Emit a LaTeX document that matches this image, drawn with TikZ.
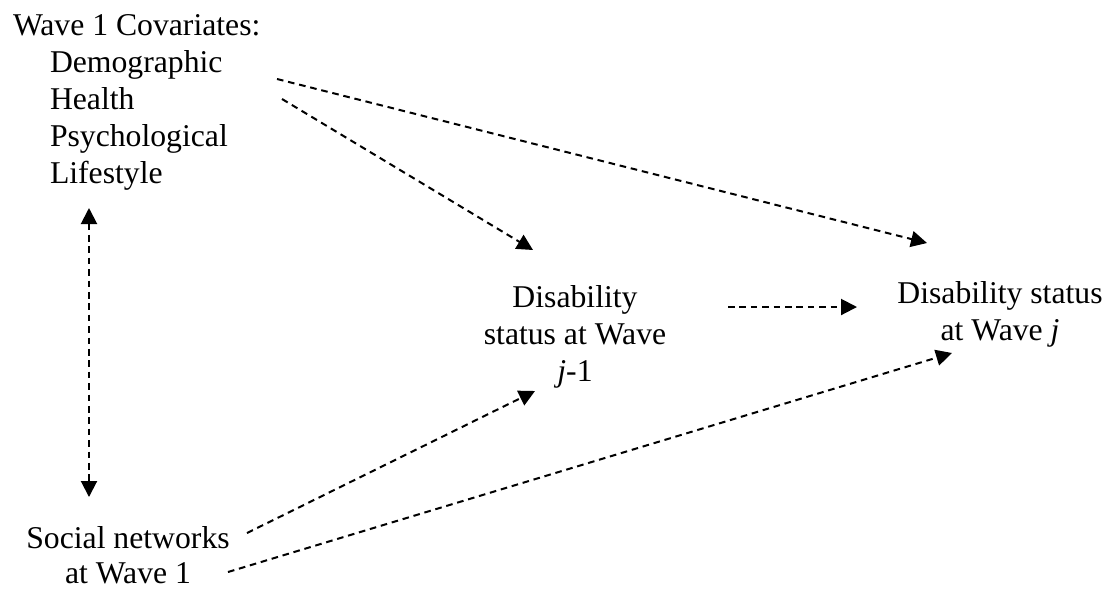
\documentclass[tikz,border=0pt]{standalone}
\usepackage{fontspec}
\setmainfont{Liberation Serif}
\usetikzlibrary{arrows.meta}
\begin{document}
\begin{tikzpicture}[x=0.5pt,y=-0.5pt,
  lbl/.style={inner sep=0pt,outer sep=0pt,anchor=base,font=\fontsize{15.85}{18.5}\selectfont},
  link/.style={line width=1pt,dash pattern=on 3.3pt off 2.4pt,-{Triangle[length=8pt,width=8pt]}},
  both/.style={line width=1pt,dash pattern=on 3.3pt off 2.4pt,{Triangle[length=8pt,width=8pt]}-{Triangle[length=8pt,width=8pt]}}]
\useasboundingbox (0,0) rectangle (1117,591);
% text blocks
\node[lbl,anchor=base west] (cov) at (13,35)
  {\begin{tabular}[t]{@{}l@{}}Wave 1 Covariates:\\
   \hspace*{18.5pt}Demographic\\
   \hspace*{18.5pt}Health\\
   \hspace*{18.5pt}Psychological\\
   \hspace*{18.5pt}Lifestyle\end{tabular}};
\node[lbl,align=center,anchor=south,font=\fontsize{15.85}{17.5}\selectfont] (soc) at (128,584)
  {Social networks\\at Wave 1};
\node[lbl] (dj1) at (575,307)
  {\begin{tabular}[t]{@{}c@{}}Disability\\status at Wave\\\textit{j}-1\end{tabular}};
\node[lbl] (dj) at (1000,303)
  {\begin{tabular}[t]{@{}c@{}}Disability status\\at Wave \textit{j}\end{tabular}};
% connector end points
\coordinate (covA) at (277,79);
\coordinate (covB) at (282,99);
\coordinate (covC) at (89,208);
\coordinate (socC) at (89,497);
\coordinate (socA) at (247,533);
\coordinate (socB) at (228,572);
\coordinate (dj1in) at (533,250);
\coordinate (dj1inB) at (535,391);
\coordinate (dj1out) at (728,307);
\coordinate (djinA) at (927,243);
\coordinate (djinB) at (857,307);
\coordinate (djinC) at (952,353);
% connectors
\draw[link] (covA) -- (djinA);
\draw[link] (covB) -- (dj1in);
\draw[link] (dj1out) -- (djinB);
\draw[both] (covC) -- (socC);
\draw[link] (socA) -- (dj1inB);
\draw[link] (socB) -- (djinC);
\end{tikzpicture}
\end{document}
